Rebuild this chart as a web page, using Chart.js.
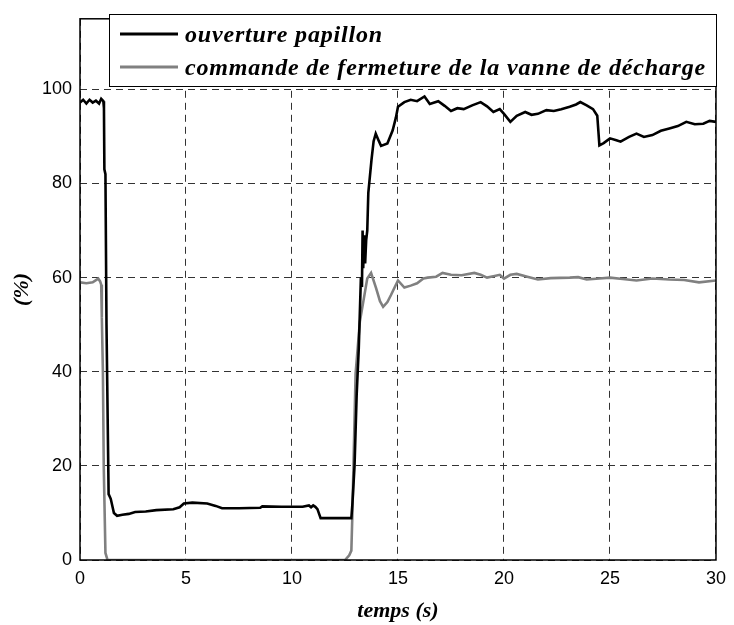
<!DOCTYPE html>
<html>
<head>
<meta charset="utf-8">
<script src="https://cdn.jsdelivr.net/npm/chart.js@4/dist/chart.umd.min.js"></script>
<style>
  html, body { margin: 0; padding: 0; background: #fff; }
  #wrap { width: 734px; height: 625px; }
</style>
</head>
<body>
<div id="wrap"><canvas id="c" width="734" height="625"></canvas></div>
<script>
// ---- data ----
const seriesNames = ["ouverture papillon", "commande de fermeture de la vanne de décharge"];
const xTitle = "temps (s)";
const yTitle = "(%)";
const xTicks = [0, 5, 10, 15, 20, 25, 30];
const yTicks = [0, 20, 40, 60, 80, 100];

const tOuverture = [0, 0.15, 0.3, 0.45, 0.6, 0.75, 0.9, 1.0, 1.1, 1.13, 1.15, 1.2, 1.25, 1.35, 1.45, 1.6, 1.75, 2.0, 2.3, 2.6, 3.1, 3.6, 4.4, 4.7, 4.9, 5.3, 6.0, 6.4, 6.7, 7.5, 8.5, 8.6, 9.5, 10.5, 10.8, 10.9, 11.0, 11.1, 11.2, 11.35, 12.0, 12.8, 12.85, 12.95, 13.05, 13.15, 13.25, 13.3, 13.33, 13.36, 13.4, 13.45, 13.5, 13.55, 13.6, 13.75, 13.85, 13.95, 14.1, 14.2, 14.5, 14.75, 14.9, 15.0, 15.3, 15.6, 15.9, 16.25, 16.5, 16.9, 17.2, 17.5, 17.8, 18.1, 18.5, 18.9, 19.2, 19.5, 19.8, 20.0, 20.3, 20.6, 21.0, 21.3, 21.6, 22.0, 22.35, 22.7, 23.1, 23.4, 23.6, 23.9, 24.2, 24.4, 24.5, 24.7, 25.0, 25.3, 25.5, 25.9, 26.25, 26.6, 27.0, 27.4, 27.8, 28.2, 28.6, 29.0, 29.4, 29.7, 30];
const vOuverture = [97.2, 97.8, 97.0, 97.8, 97.2, 97.6, 97.0, 98.0, 97.5, 96, 83, 82, 50, 14, 13, 10, 9.4, 9.6, 9.8, 10.2, 10.3, 10.6, 10.8, 11.2, 12.0, 12.2, 12.0, 11.5, 11.0, 11.0, 11.1, 11.4, 11.3, 11.3, 11.6, 11.2, 11.6, 11.3, 10.8, 8.9, 8.9, 8.9, 12, 20, 35, 45, 60, 58, 70, 62, 69, 63, 68, 70, 78, 85, 89, 90.6, 89, 88, 88.5, 91.3, 94, 96.3, 97.3, 97.8, 97.5, 98.5, 96.9, 97.5, 96.5, 95.4, 96, 95.8, 96.6, 97.3, 96.4, 95.2, 95.8, 94.8, 93.1, 94.4, 95.2, 94.6, 94.8, 95.6, 95.4, 95.8, 96.3, 96.8, 97.3, 96.6, 95.8, 94.4, 88.1, 88.6, 89.6, 89.2, 88.9, 89.9, 90.6, 89.9, 90.3, 91.2, 91.7, 92.2, 93.1, 92.6, 92.7, 93.3, 93.1];

const tCommande = [0, 0.3, 0.6, 0.86, 0.95, 1.0, 1.03, 1.08, 1.12, 1.2, 1.3, 12.5, 12.7, 12.8, 12.85, 12.9, 13.0, 13.2, 13.36, 13.55, 13.73, 13.97, 14.15, 14.3, 14.5, 14.67, 14.85, 15.0, 15.3, 15.6, 15.9, 16.2, 16.4, 16.8, 17.1, 17.5, 18.0, 18.6, 18.9, 19.2, 19.5, 19.8, 20.0, 20.3, 20.6, 21.1, 21.6, 22.2, 23.1, 23.5, 23.9, 24.5, 25.0, 25.6, 26.25, 27.0, 27.8, 28.5, 29.2, 30];
const vCommande = [59.0, 58.8, 59.0, 59.8, 59.2, 58.5, 51.5, 40, 20, 1.5, 0, 0, 1, 2, 10, 20, 39.6, 50.6, 54.8, 59.8, 61, 57.7, 55, 53.8, 54.8, 56.3, 58, 59.4, 57.9, 58.3, 58.8, 59.8, 60, 60.2, 61, 60.6, 60.5, 61, 60.6, 60, 60.3, 60.6, 59.8, 60.6, 60.8, 60.2, 59.6, 59.9, 60, 60.1, 59.6, 59.8, 60, 59.7, 59.4, 59.8, 59.6, 59.5, 59, 59.4];

const toPoints = (ts, vs) => ts.map((t, i) => ({ x: t, y: vs[i] }));

// ---- plugin: frame, axis titles, legend box ----
const decor = {
  id: 'decor',
  afterDraw(chart) {
    const ctx = chart.ctx;
    const a = chart.chartArea;
    ctx.save();
    // frame
    ctx.strokeStyle = '#000';
    ctx.lineWidth = 1.5;
    ctx.setLineDash([]);
    ctx.strokeRect(a.left, a.top, a.right - a.left, a.bottom - a.top);

    // axis titles
    ctx.fillStyle = '#000';
    ctx.font = 'italic bold 22px "Liberation Serif", "DejaVu Serif", serif';
    ctx.textAlign = 'center';
    ctx.textBaseline = 'middle';
    ctx.fillText(xTitle, (a.left + a.right) / 2, 611);
    ctx.save();
    ctx.translate(22, (a.top + a.bottom) / 2);
    ctx.rotate(-Math.PI / 2);
    ctx.fillText(yTitle, 0, 0);
    ctx.restore();

    // legend
    const bx = 109.5, by = 14.5, bw = 607, bh = 72;
    ctx.fillStyle = '#fff';
    ctx.fillRect(bx, by, bw, bh);
    ctx.strokeStyle = '#000';
    ctx.lineWidth = 1;
    ctx.strokeRect(bx, by, bw, bh);
    const colors = ['#000000', '#808080'];
    const rowsY = [35, 68];
    ctx.font = 'italic bold 24px "Liberation Serif", "DejaVu Serif", serif';
    ctx.textAlign = 'left';
    ctx.textBaseline = 'middle';
    const target = 520;
    const w2 = ctx.measureText(seriesNames[1]).width;
    const spacing = Math.max(0, (target - w2) / (seriesNames[1].length - 1));
    seriesNames.forEach((name, i) => {
      ctx.strokeStyle = colors[i];
      ctx.lineWidth = 3;
      ctx.beginPath();
      ctx.moveTo(120, rowsY[i] - 1);
      ctx.lineTo(178, rowsY[i] - 1);
      ctx.stroke();
      ctx.fillStyle = '#000';
      ctx.letterSpacing = spacing.toFixed(2) + 'px';
      ctx.fillText(name, 185, rowsY[i] + 1);
    });
    ctx.restore();
  }
};

const gridDash = [7, 5];

new Chart(document.getElementById('c'), {
  type: 'line',
  data: {
    datasets: [
      { label: seriesNames[0], data: toPoints(tOuverture, vOuverture), borderColor: '#000000', borderWidth: 2.6, pointRadius: 0, tension: 0, fill: false },
      { label: seriesNames[1], data: toPoints(tCommande, vCommande), borderColor: '#808080', borderWidth: 2.6, pointRadius: 0, tension: 0, fill: false }
    ]
  },
  options: {
    responsive: false,
    animation: false,
    layout: { padding: { left: 0, right: 14, top: 9, bottom: 0 } },
    plugins: { legend: { display: false }, tooltip: { enabled: false } },
    scales: {
      x: {
        type: 'linear', min: 0, max: 30,
        afterBuildTicks: s => { s.ticks = xTicks.map(v => ({ value: v })); },
        afterFit: s => { s.height = 65; },
        ticks: { color: '#000', font: { family: '"Liberation Sans", Arial, sans-serif', size: 18 }, padding: 8, maxRotation: 0 },
        grid: { color: '#333', lineWidth: 1, drawTicks: false, tickLength: 0 },
        border: { display: false, dash: gridDash }
      },
      y: {
        type: 'linear', min: 0, max: 115,
        afterBuildTicks: s => { s.ticks = yTicks.map(v => ({ value: v })); },
        afterFit: s => { s.width = 80; },
        ticks: { color: '#000', font: { family: '"Liberation Sans", Arial, sans-serif', size: 18 }, padding: 8 },
        grid: { color: '#333', lineWidth: 1, drawTicks: false, tickLength: 0 },
        border: { display: false, dash: gridDash }
      }
    }
  },
  plugins: [decor]
});
</script>
</body>
</html>
